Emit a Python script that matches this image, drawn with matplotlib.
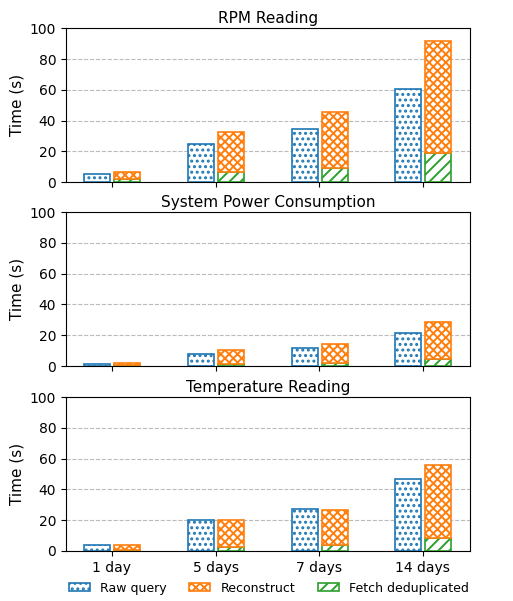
import matplotlib
matplotlib.use("Agg")
import matplotlib.pyplot as plt
import numpy as np

categories = ["1 day", "5 days", "7 days", "14 days"]
titles = ["RPM Reading", "System Power Consumption", "Temperature Reading"]

raw_query = [
    [5.2, 24.5, 34.4, 60.2],
    [1.6, 8.1, 11.4, 21.3],
    [4.1, 19.9, 27.0, 46.8],
]
fetch_dedup = [
    [2.0, 6.7, 9.1, 18.8],
    [0.4, 1.6, 2.0, 4.4],
    [0.7, 2.8, 3.9, 8.4],
]
reconstruct_total = [
    [6.3, 32.5, 45.7, 91.8],
    [2.0, 10.1, 14.2, 28.5],
    [3.7, 20.1, 26.4, 55.8],
]

BLUE = "#1f77b4"
ORANGE = "#ff7f0e"
GREEN = "#2ca02c"

plt.rcParams["hatch.linewidth"] = 1.4
fig = plt.figure(figsize=(5.13, 6.01), dpi=100)
left, width = 0.1287, 0.787
bottoms = [0.697, 0.391, 0.0832]
height = 0.256
x = np.arange(len(categories))
w = 0.25
off = 0.14
axes = []
for i in range(3):
    ax = fig.add_axes([left, bottoms[i], width, height])
    axes.append(ax)
    recon = np.array(reconstruct_total[i]) - np.array(fetch_dedup[i])
    b1 = ax.bar(x - off, raw_query[i], w, facecolor="white", edgecolor=BLUE,
                hatch="...", linewidth=1.2, label="Raw query", zorder=3)
    b3 = ax.bar(x + off + 0.01, fetch_dedup[i], w, facecolor="white", edgecolor=GREEN,
                hatch="///", linewidth=1.2, label="Fetch deduplicated", zorder=3)
    b2 = ax.bar(x + off + 0.01, recon, w, bottom=fetch_dedup[i], facecolor="white",
                edgecolor=ORANGE, hatch="xxxx", linewidth=1.2, label="Reconstruct", zorder=3)
    ax.set_ylim(0, 100)
    ax.set_yticks([0, 20, 40, 60, 80, 100])
    ax.set_ylabel("Time (s)", fontsize=11)
    ax.set_title(titles[i], fontsize=11, pad=4)
    ax.yaxis.grid(True, linestyle="--", color="#bbbbbb", linewidth=0.8, zorder=0)
    ax.set_axisbelow(True)
    ax.set_xticks(x)
    if i < 2:
        ax.set_xticklabels([])
    else:
        ax.set_xticklabels(categories, fontsize=10)
    ax.tick_params(labelsize=10)
    if i == 2:
        handles = [b1, b2, b3]

fig.legend(handles, ["Raw query", "Reconstruct", "Fetch deduplicated"],
           loc="center", bbox_to_anchor=(0.524, 0.0216), ncol=3, frameon=False,
           fontsize=9, handlelength=1.7, handleheight=0.6, columnspacing=1.8,
           handletextpad=0.8)
fig.savefig("out.png", dpi=100)
